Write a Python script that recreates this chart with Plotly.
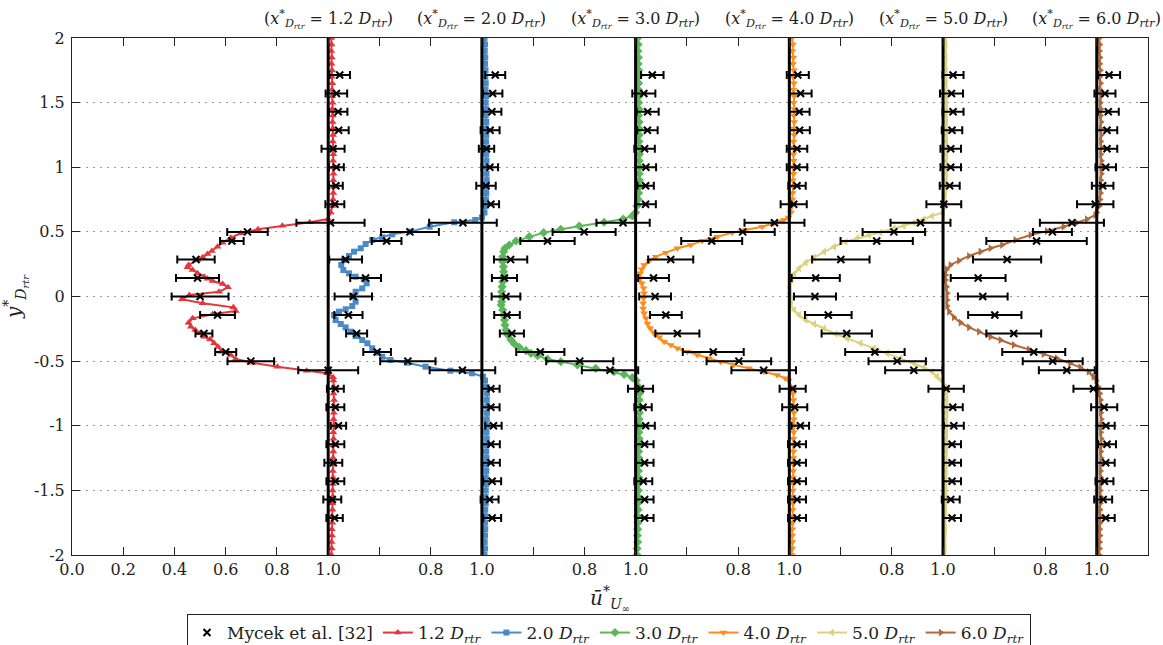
import plotly.graph_objects as go

# ---------------- data ----------------
profiles = ["1.2", "2.0", "3.0", "4.0", "5.0", "6.0"]
colors = ["#e4363c", "#4a8ac6", "#5db65a", "#ff8c1a", "#dcd27a", "#b0693c"]
symbols = ["triangle-up", "square", "diamond", "triangle-down", "triangle-left", "triangle-right"]

# free-stream (outer) CFD sampling heights
y_up = [2.0, 1.95, 1.9, 1.85, 1.8, 1.75, 1.7, 1.65, 1.6, 1.55, 1.5, 1.45, 1.4, 1.35,
        1.3, 1.25, 1.2, 1.15, 1.1, 1.05, 1.0, 0.95, 0.9, 0.85, 0.8, 0.75, 0.7, 0.65]
y_lo = [-0.65, -0.7, -0.75, -0.8, -0.85, -0.9, -0.95, -1.0, -1.05, -1.1, -1.15, -1.2, -1.25, -1.3,
        -1.35, -1.4, -1.45, -1.5, -1.55, -1.6, -1.65, -1.7, -1.75, -1.8, -1.85, -1.9, -1.95, -2.0]

# ---- 1.2 D ----
u_up_12 = [1.012, 1.013, 1.012, 1.014, 1.013, 1.015, 1.014, 1.016, 1.015, 1.016, 1.017, 1.016, 1.018, 1.017,
           1.018, 1.019, 1.018, 1.019, 1.02, 1.019, 1.02, 1.021, 1.02, 1.021, 1.02, 1.019, 1.016, 1.01]
y_wk_12 = [0.600, 0.574, 0.548, 0.520, 0.489, 0.455, 0.416, 0.385, 0.352, 0.329, 0.303, 0.282, 0.244, 0.226,
           0.205, 0.179, 0.153, 0.138, 0.120, 0.097, 0.071, 0.037, 0.012, -0.022, -0.053, -0.084, -0.112,
           -0.138, -0.169, -0.203, -0.234, -0.259, -0.285, -0.311, -0.331, -0.362, -0.388, -0.427, -0.453,
           -0.484, -0.512, -0.543, -0.574, -0.594, -0.625]
u_wk_12 = [1.0, 0.928, 0.821, 0.726, 0.659, 0.620, 0.588, 0.568, 0.546, 0.529, 0.510, 0.490, 0.455, 0.451,
           0.471, 0.490, 0.516, 0.529, 0.549, 0.588, 0.609, 0.574, 0.458, 0.429, 0.510, 0.630, 0.639,
           0.549, 0.471, 0.455, 0.464, 0.481, 0.500, 0.516, 0.539, 0.555, 0.570, 0.584, 0.620,
           0.639, 0.704, 0.802, 0.916, 0.996, 1.019]
u_lo_12 = [1.02, 1.022, 1.021, 1.023, 1.022, 1.022, 1.021, 1.022, 1.02, 1.021, 1.02, 1.02, 1.019, 1.02,
           1.018, 1.019, 1.018, 1.017, 1.018, 1.016, 1.017, 1.015, 1.016, 1.014, 1.015, 1.013, 1.014, 1.013]

# ---- 2.0 D ----
u_up_20 = [1.01, 1.012, 1.011, 1.013, 1.012, 1.014, 1.013, 1.015, 1.014, 1.016, 1.015, 1.016, 1.015, 1.017,
           1.016, 1.017, 1.016, 1.018, 1.017, 1.018, 1.017, 1.018, 1.019, 1.018, 1.017, 1.016, 1.014, 1.01]
y_wk_20 = [0.612, 0.592, 0.574, 0.540, 0.502, 0.481, 0.458, 0.437, 0.406, 0.373, 0.347, 0.313, 0.282, 0.244,
           0.205, 0.179, 0.153, 0.133, 0.102, 0.063, 0.037, 0.004, -0.040, -0.074, -0.099, -0.117, -0.143,
           -0.182, -0.213, -0.239, -0.272, -0.306, -0.337, -0.362, -0.401, -0.435, -0.466, -0.491, -0.512,
           -0.543, -0.574, -0.594, -0.620]
u_wk_20 = [1.0, 0.974, 0.892, 0.796, 0.719, 0.650, 0.611, 0.572, 0.546, 0.527, 0.501, 0.481, 0.462, 0.451,
           0.459, 0.481, 0.507, 0.540, 0.550, 0.533, 0.507, 0.494, 0.507, 0.494, 0.468, 0.442, 0.423,
           0.429, 0.449, 0.468, 0.488, 0.507, 0.533, 0.553, 0.572, 0.591, 0.611, 0.643, 0.708,
           0.780, 0.877, 0.961, 1.004]
u_lo_20 = [1.012, 1.018, 1.02, 1.019, 1.021, 1.02, 1.019, 1.02, 1.018, 1.019, 1.018, 1.017, 1.018, 1.016,
           1.017, 1.015, 1.016, 1.015, 1.014, 1.015, 1.013, 1.014, 1.012, 1.013, 1.012, 1.011, 1.012, 1.01]

# ---- 3.0 D ----
u_up_30 = [1.008, 1.01, 1.009, 1.011, 1.01, 1.012, 1.011, 1.012, 1.011, 1.013, 1.012, 1.013, 1.012, 1.014,
           1.013, 1.014, 1.013, 1.014, 1.015, 1.014, 1.015, 1.014, 1.015, 1.014, 1.012, 1.01, 1.005, 1.0]
y_wk_30 = [0.623, 0.600, 0.574, 0.545, 0.520, 0.494, 0.463, 0.429, 0.398, 0.373, 0.347, 0.308, 0.270, 0.231,
           0.192, 0.153, 0.115, 0.076, 0.037, -0.001, -0.040, -0.066, -0.104, -0.143, -0.182, -0.221, -0.259,
           -0.298, -0.337, -0.368, -0.393, -0.419, -0.440, -0.458, -0.484, -0.504, -0.530, -0.556, -0.582,
           -0.603, -0.628]
u_wk_30 = [0.987, 0.952, 0.877, 0.780, 0.708, 0.641, 0.585, 0.533, 0.507, 0.490, 0.485, 0.481, 0.481, 0.484,
           0.485, 0.485, 0.481, 0.479, 0.477, 0.477, 0.477, 0.475, 0.481, 0.484, 0.488, 0.490, 0.494,
           0.501, 0.514, 0.527, 0.546, 0.572, 0.591, 0.617, 0.656, 0.708, 0.773, 0.844, 0.916,
           0.955, 0.987]
u_lo_30 = [1.003, 1.012, 1.015, 1.014, 1.016, 1.015, 1.014, 1.015, 1.013, 1.014, 1.013, 1.012, 1.013, 1.012,
           1.011, 1.012, 1.01, 1.011, 1.01, 1.009, 1.01, 1.008, 1.009, 1.008, 1.007, 1.008, 1.006, 1.006]

# ---- 4.0 D ----
u_up_40 = [1.01, 1.014, 1.012, 1.016, 1.014, 1.018, 1.015, 1.018, 1.016, 1.019, 1.017, 1.02, 1.018, 1.019,
           1.017, 1.019, 1.016, 1.018, 1.016, 1.017, 1.015, 1.016, 1.014, 1.015, 1.013, 1.012, 1.01, 1.006]
y_wk_40 = [0.612, 0.592, 0.566, 0.540, 0.515, 0.494, 0.463, 0.432, 0.398, 0.373, 0.339, 0.308, 0.277, 0.244,
           0.210, 0.179, 0.141, 0.102, 0.063, 0.025, -0.014, -0.053, -0.092, -0.130, -0.169, -0.208, -0.246,
           -0.285, -0.316, -0.350, -0.375, -0.401, -0.427, -0.453, -0.478, -0.504, -0.530, -0.556, -0.582,
           -0.607, -0.633]
u_wk_40 = [0.997, 0.978, 0.939, 0.894, 0.829, 0.777, 0.719, 0.660, 0.615, 0.563, 0.518, 0.479, 0.453, 0.433,
           0.423, 0.418, 0.418, 0.424, 0.431, 0.433, 0.431, 0.429, 0.429, 0.433, 0.440, 0.446, 0.457,
           0.472, 0.492, 0.511, 0.537, 0.563, 0.602, 0.641, 0.686, 0.732, 0.783, 0.842, 0.900,
           0.952, 0.984]
u_lo_40 = [0.998, 1.01, 1.014, 1.016, 1.017, 1.018, 1.017, 1.018, 1.017, 1.016, 1.017, 1.016, 1.015, 1.016,
           1.015, 1.014, 1.015, 1.014, 1.013, 1.014, 1.013, 1.012, 1.013, 1.012, 1.011, 1.012, 1.011, 1.01]

# ---- 5.0 D ----
u_up_50 = [1.008, 1.01, 1.009, 1.01, 1.009, 1.011, 1.01, 1.011, 1.01, 1.012, 1.011, 1.012, 1.011, 1.012,
           1.011, 1.012, 1.013, 1.012, 1.013, 1.012, 1.013, 1.012, 1.011, 1.01, 1.008, 1.006, 1.004, 1.0]
y_wk_50 = [0.623, 0.597, 0.571, 0.548, 0.527, 0.496, 0.476, 0.450, 0.424, 0.385, 0.347, 0.303, 0.262, 0.218,
           0.174, 0.128, 0.076, 0.025, -0.027, -0.066, -0.104, -0.143, -0.182, -0.213, -0.246, -0.290,
           -0.324, -0.362, -0.401, -0.440, -0.478, -0.517, -0.548, -0.582, -0.620]
u_wk_50 = [0.957, 0.925, 0.886, 0.847, 0.808, 0.756, 0.711, 0.665, 0.620, 0.575, 0.536, 0.497, 0.464, 0.438,
           0.419, 0.409, 0.403, 0.403, 0.406, 0.406, 0.419, 0.438, 0.464, 0.497, 0.536, 0.581,
           0.626, 0.678, 0.730, 0.782, 0.834, 0.886, 0.925, 0.957, 0.977]
u_lo_50 = [0.995, 1.008, 1.012, 1.014, 1.013, 1.014, 1.013, 1.012, 1.013, 1.012, 1.011, 1.012, 1.011, 1.01,
           1.011, 1.01, 1.009, 1.01, 1.009, 1.008, 1.009, 1.008, 1.007, 1.008, 1.007, 1.006, 1.007, 1.006]

# ---- 6.0 D ----
u_up_60 = [1.01, 1.012, 1.011, 1.013, 1.012, 1.014, 1.012, 1.015, 1.013, 1.016, 1.014, 1.016, 1.015, 1.017,
           1.015, 1.017, 1.016, 1.018, 1.016, 1.018, 1.017, 1.018, 1.016, 1.017, 1.015, 1.013, 1.01, 1.0]
y_wk_60 = [0.631, 0.597, 0.571, 0.540, 0.506, 0.476, 0.437, 0.398, 0.373, 0.347, 0.313, 0.277, 0.244, 0.210,
           0.166, 0.128, 0.076, 0.025, -0.027, -0.074, -0.117, -0.161, -0.202, -0.239, -0.272, -0.311,
           -0.337, -0.375, -0.409, -0.445, -0.478, -0.517, -0.548, -0.582, -0.620]
u_wk_60 = [0.994, 0.961, 0.922, 0.870, 0.805, 0.741, 0.682, 0.630, 0.585, 0.546, 0.501, 0.462, 0.429, 0.414,
           0.410, 0.410, 0.414, 0.416, 0.416, 0.416, 0.423, 0.442, 0.468, 0.501, 0.540, 0.585,
           0.624, 0.676, 0.734, 0.792, 0.844, 0.896, 0.935, 0.968, 0.987]
u_lo_60 = [0.998, 1.006, 1.012, 1.015, 1.017, 1.016, 1.018, 1.017, 1.016, 1.018, 1.017, 1.016, 1.017, 1.016,
           1.015, 1.016, 1.015, 1.014, 1.015, 1.014, 1.013, 1.014, 1.013, 1.012, 1.013, 1.012, 1.011, 1.01]

# ---- Mycek et al. experiments ----
y_exp = [1.714, 1.571, 1.429, 1.286, 1.143, 1.0, 0.857, 0.714, 0.571, 0.5, 0.429, 0.286, 0.143, 0.0,
         -0.143, -0.286, -0.429, -0.5, -0.571, -0.714, -0.857, -1.0, -1.143, -1.286, -1.429, -1.571, -1.714]
u_exp_12 = [1.045, 1.032, 1.039, 1.041, 1.019, 1.032, 1.03, 1.026, 1.009, 0.685, 0.624, 0.484, 0.49, 0.5,
            0.568, 0.515, 0.6, 0.698, 1.0, 1.028, 1.028, 1.04, 1.028, 1.02, 1.028, 1.016, 1.025]
e_exp_12 = [0.04, 0.042, 0.036, 0.039, 0.045, 0.029, 0.027, 0.037, 0.133, 0.079, 0.046, 0.073, 0.084, 0.111,
            0.068, 0.033, 0.041, 0.091, 0.117, 0.033, 0.035, 0.03, 0.035, 0.035, 0.035, 0.035, 0.032]
u_exp_20 = [1.052, 1.042, 1.039, 1.032, 1.018, 1.031, 1.016, 1.035, 0.926, 0.719, 0.628, 0.468, 0.546, 0.498,
            0.479, 0.511, 0.591, 0.711, 0.924, 1.035, 1.035, 1.045, 1.035, 1.035, 1.04, 1.03, 1.04]
e_exp_20 = [0.039, 0.038, 0.037, 0.037, 0.03, 0.032, 0.038, 0.032, 0.132, 0.113, 0.058, 0.064, 0.06, 0.073,
            0.055, 0.041, 0.054, 0.108, 0.128, 0.034, 0.034, 0.032, 0.035, 0.035, 0.035, 0.035, 0.035]
u_exp_30 = [1.065, 1.032, 1.047, 1.046, 1.035, 1.04, 1.039, 1.039, 0.951, 0.799, 0.656, 0.512, 0.488, 0.494,
            0.498, 0.517, 0.628, 0.782, 0.9, 1.019, 1.029, 1.039, 1.035, 1.035, 1.03, 1.035, 1.035]
e_exp_30 = [0.044, 0.045, 0.043, 0.04, 0.04, 0.04, 0.032, 0.04, 0.104, 0.123, 0.106, 0.065, 0.049, 0.056,
            0.05, 0.047, 0.094, 0.131, 0.11, 0.049, 0.034, 0.036, 0.035, 0.035, 0.035, 0.035, 0.035]
u_exp_40 = [1.033, 1.044, 1.039, 1.04, 1.03, 1.03, 1.03, 1.017, 0.942, 0.818, 0.697, 0.537, 0.47, 0.476,
            0.518, 0.563, 0.703, 0.803, 0.9, 1.013, 1.021, 1.043, 1.03, 1.03, 1.03, 1.03, 1.03]
e_exp_40 = [0.043, 0.043, 0.04, 0.04, 0.04, 0.04, 0.034, 0.051, 0.117, 0.125, 0.119, 0.088, 0.06, 0.062,
            0.062, 0.086, 0.119, 0.126, 0.126, 0.051, 0.049, 0.034, 0.035, 0.035, 0.035, 0.035, 0.035]
u_exp_50 = [1.039, 1.033, 1.039, 1.035, 1.03, 1.03, 1.026, 1.003, 0.912, 0.808, 0.741, 0.601, 0.503, 0.5,
            0.552, 0.624, 0.734, 0.821, 0.886, 1.012, 1.038, 1.042, 1.035, 1.035, 1.035, 1.03, 1.035]
e_exp_50 = [0.041, 0.045, 0.041, 0.04, 0.04, 0.04, 0.039, 0.068, 0.117, 0.122, 0.141, 0.112, 0.094, 0.082,
            0.091, 0.098, 0.116, 0.112, 0.112, 0.069, 0.039, 0.039, 0.035, 0.035, 0.035, 0.035, 0.035]
u_exp_60 = [1.048, 1.032, 1.045, 1.04, 1.04, 1.035, 1.023, 0.994, 0.903, 0.827, 0.765, 0.65, 0.537, 0.555,
            0.602, 0.676, 0.754, 0.828, 0.883, 0.987, 1.029, 1.036, 1.04, 1.035, 1.03, 1.025, 1.035]
e_exp_60 = [0.043, 0.041, 0.041, 0.04, 0.04, 0.04, 0.042, 0.071, 0.125, 0.076, 0.196, 0.133, 0.107, 0.097,
            0.104, 0.107, 0.123, 0.117, 0.109, 0.078, 0.051, 0.034, 0.035, 0.035, 0.035, 0.035, 0.035]

# x-tick labels (each profile is drawn shifted by 0.6 along the axis)
xtick_vals = [0.0, 0.2, 0.4, 0.6, 0.8, 1.0, 1.2, 1.4, 1.6, 1.8, 2.0, 2.2, 2.4, 2.6, 2.8,
              3.0, 3.2, 3.4, 3.6, 3.8, 4.0, 4.2]
xtick_text = ["0.0", "0.2", "0.4", "0.6", "0.8", "1.0", "", "0.8", "1.0", "", "0.8", "1.0", "", "0.8", "1.0",
              "", "0.8", "1.0", "", "0.8", "1.0", ""]
ytick_vals = [-2, -1.5, -1, -0.5, 0, 0.5, 1, 1.5, 2]
ytick_text = ["-2", "-1.5", "-1", "-0.5", "0", "0.5", "1", "1.5", "2"]

# ---------------- figure ----------------
shift = 0.6
FONT = "DejaVu Serif"
W, H = 1163, 645

cfd = [
    (u_up_12, y_wk_12, u_wk_12, u_lo_12),
    (u_up_20, y_wk_20, u_wk_20, u_lo_20),
    (u_up_30, y_wk_30, u_wk_30, u_lo_30),
    (u_up_40, y_wk_40, u_wk_40, u_lo_40),
    (u_up_50, y_wk_50, u_wk_50, u_lo_50),
    (u_up_60, y_wk_60, u_wk_60, u_lo_60),
]
exp = [(u_exp_12, e_exp_12), (u_exp_20, e_exp_20), (u_exp_30, e_exp_30),
       (u_exp_40, e_exp_40), (u_exp_50, e_exp_50), (u_exp_60, e_exp_60)]
msize = [7, 6, 7, 7, 7, 7]

fig = go.Figure()

for i, (uu, yw, uw, ul) in enumerate(cfd):
    ys = y_up + yw + y_lo
    us = uu + uw + ul
    fig.add_trace(go.Scatter(
        x=[u + shift * i for u in us], y=ys, mode="lines+markers",
        line=dict(color=colors[i], width=2),
        marker=dict(symbol=symbols[i], size=msize[i], color=colors[i]),
        name=f"{profiles[i]} <i>D</i><sub><i>rtr</i></sub>", legendrank=10 + i,
    ))

for i in range(6):
    fig.add_trace(go.Scatter(
        x=[1.0 + shift * i, 1.0 + shift * i], y=[-2, 2], mode="lines",
        line=dict(color="black", width=3), showlegend=False, hoverinfo="skip",
    ))

for i, (ue, ee) in enumerate(exp):
    fig.add_trace(go.Scatter(
        x=[u + shift * i for u in ue], y=y_exp, mode="markers",
        marker=dict(symbol="x-thin", size=7, color="black", line=dict(color="black", width=2)),
        error_x=dict(type="data", array=ee, visible=True, color="black", thickness=2, width=4),
        name="Mycek et al. [32]", showlegend=(i == 0), legendgroup="exp", legendrank=1,
    ))

for i, p in enumerate(profiles):
    fig.add_annotation(
        x=1.0 + shift * i, y=1.0, xref="x", yref="paper", yanchor="bottom", yshift=5,
        text=f"(<i>x</i><sup>*</sup><sub><i>D</i><sub><i>rtr</i></sub></sub> = {p} <i>D</i><sub><i>rtr</i></sub>)",
        showarrow=False, font=dict(family=FONT, size=16, color="#222"),
    )

axis_common = dict(showline=True, linecolor="#222", linewidth=1, mirror="ticks",
                   ticks="inside", ticklen=8, tickcolor="#222", zeroline=False, automargin=False,
                   tickfont=dict(family=FONT, size=16, color="#222"))

fig.update_xaxes(range=[0, 4.2], tickvals=xtick_vals, ticktext=xtick_text, showgrid=False,
                 title=dict(text="<i>ū</i><sup>*</sup><sub><i>U</i><sub>∞</sub></sub>",
                            font=dict(family=FONT, size=20, color="#222")),
                 **axis_common)
fig.update_yaxes(range=[-2, 2], tickvals=ytick_vals, ticktext=ytick_text, showgrid=True,
                 gridcolor="#999999", griddash="2px,5px", gridwidth=1, ticklabelstandoff=3,
                 title=dict(text="<i>y</i><sup>*</sup><sub><i>D</i><sub><i>rtr</i></sub></sub>",
                            font=dict(family=FONT, size=20, color="#222")),
                 **axis_common)

fig.update_layout(
    width=W, height=H,
    margin=dict(l=72, r=15, t=38, b=90),
    plot_bgcolor="white", paper_bgcolor="white",
    font=dict(family=FONT, color="#222"),
    legend=dict(orientation="h", x=609 / W, xanchor="center", xref="container",
                y=(H - 614) / H, yanchor="top", yref="container",
                bordercolor="#222", borderwidth=1, bgcolor="white",
                font=dict(family=FONT, size=17, color="#222"), tracegroupgap=0,
                itemwidth=30),
    showlegend=True,
)

fig.write_html("out.html")
